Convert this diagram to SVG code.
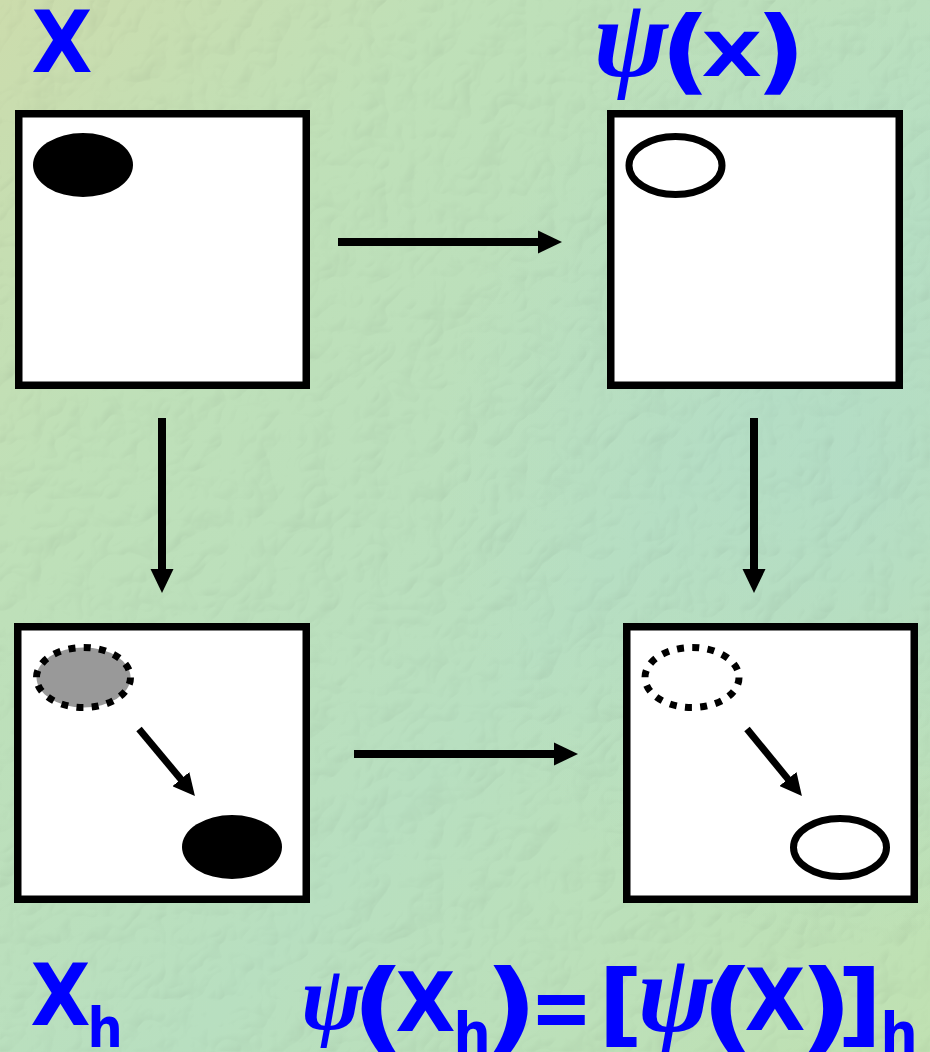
<svg xmlns="http://www.w3.org/2000/svg" width="930" height="1052" viewBox="0 0 930 1052">
  <defs>
    <linearGradient id="paper" x1="0" y1="0" x2="1" y2="1">
      <stop offset="0" stop-color="#c4d4a4"/>
      <stop offset="0.25" stop-color="#b7d8b0"/>
      <stop offset="0.6" stop-color="#b0d7b8"/>
      <stop offset="1" stop-color="#b8d9aa"/>
    </linearGradient>
    <radialGradient id="tealPatch" cx="0.92" cy="0.45" r="0.45">
      <stop offset="0" stop-color="#a6d2c4" stop-opacity="0.5"/>
      <stop offset="1" stop-color="#a6d2c4" stop-opacity="0"/>
    </radialGradient>
    <filter id="grain" x="0" y="0" width="100%" height="100%" color-interpolation-filters="sRGB">
      <feTurbulence type="turbulence" baseFrequency="0.018" numOctaves="3" seed="11" result="noise"/>
      <feDiffuseLighting in="noise" surfaceScale="1.6" lighting-color="#ffffff" diffuseConstant="1.15" result="lit">
        <feDistantLight azimuth="225" elevation="60"/>
      </feDiffuseLighting>
      <feComposite in="SourceGraphic" in2="lit" operator="arithmetic" k1="0.35" k2="0.65" k3="0" k4="0.03"/>
    </filter>
    <marker id="head" viewBox="0 0 24 24" markerUnits="userSpaceOnUse" markerWidth="24" markerHeight="24" refX="4" refY="12" orient="auto">
      <path d="M0,0.5 L24,12 L0,23.5 Z" fill="#000"/>
    </marker>
    <marker id="headSmall" viewBox="0 0 22 22" markerUnits="userSpaceOnUse" markerWidth="22" markerHeight="22" refX="4" refY="11" orient="auto">
      <path d="M0,0 L22,11 L0,22 Z" fill="#000"/>
    </marker>
  </defs>
  <style>
    .frame { fill: #ffffff; stroke: #000000; stroke-width: 7.5; }
    .solid { fill: #000000; }
    .ring { fill: #ffffff; stroke: #000000; stroke-width: 7; }
    .dotted { stroke: #000000; stroke-width: 7; stroke-dasharray: 7 8.3; }
    .link { stroke: #000000; stroke-width: 8; fill: none; }
    .move { stroke: #000000; stroke-width: 7; fill: none; }
    .lbl { fill: #0000ff; font-family: "DejaVu Sans", Verdana, sans-serif; font-weight: bold; }
    .psi { fill: #0000ff; font-family: "Liberation Serif", "DejaVu Serif", serif; font-style: italic; font-weight: bold; }
  </style>

  <!-- textured paper background -->
  <g filter="url(#grain)">
    <rect width="930" height="1052" fill="url(#paper)"/>
    <rect width="930" height="1052" fill="url(#tealPatch)"/>
  </g>

  <!-- top-left: set X -->
  <g id="node-x">
    <rect class="frame" x="18.75" y="113.75" width="287.5" height="271.5"/>
    <ellipse class="solid" cx="83" cy="165" rx="50" ry="32"/>
  </g>

  <!-- top-right: image psi(X) -->
  <g id="node-psi-x">
    <rect class="frame" x="610.75" y="113.75" width="288.5" height="271.5"/>
    <ellipse class="ring" cx="675.5" cy="165.5" rx="46.5" ry="29"/>
  </g>

  <!-- bottom-left: translated set X_h -->
  <g id="node-xh">
    <rect class="frame" x="17.75" y="626.75" width="288.5" height="272.5"/>
    <ellipse class="dotted" fill="#999999" cx="83.5" cy="677.5" rx="47" ry="30"/>
    <line class="move" x1="139" y1="729" x2="183.4" y2="782.2" marker-end="url(#headSmall)"/>
    <ellipse class="solid" cx="232" cy="847" rx="50" ry="32"/>
  </g>

  <!-- bottom-right: translated image -->
  <g id="node-psi-xh">
    <rect class="frame" x="626.75" y="626.75" width="287.5" height="272.5"/>
    <ellipse class="dotted" fill="none" cx="692" cy="677.5" rx="47" ry="30"/>
    <line class="move" x1="747" y1="729" x2="790.5" y2="782.1" marker-end="url(#headSmall)"/>
    <ellipse class="ring" cx="840" cy="847.5" rx="46.5" ry="29"/>
  </g>

  <!-- mapping arrows -->
  <g id="connectors">
    <line class="link" x1="338" y1="242" x2="542" y2="242" marker-end="url(#head)"/>
    <line class="link" x1="162" y1="418" x2="162" y2="573" marker-end="url(#head)"/>
    <line class="link" x1="754" y1="418" x2="754" y2="573" marker-end="url(#head)"/>
    <line class="link" x1="354" y1="754" x2="558" y2="754" marker-end="url(#head)"/>
  </g>

  <!-- labels -->
  <g id="label-x">
    <text class="lbl" font-size="86" transform="translate(31.4,72) scale(0.92,1)">X</text>
  </g>
  <g id="label-psi-x">
    <text class="psi" font-size="112" x="593.5" y="76.3">ψ</text>
    <text class="lbl" font-size="93" transform="translate(660,83) scale(1.2,1)">(</text>
    <text class="lbl" font-size="60" transform="translate(701.4,76) scale(1.31,1)">X</text>
    <text class="lbl" font-size="93" transform="translate(755,83) scale(1.2,1)">)</text>
  </g>
  <g id="label-xh">
    <text class="lbl" font-size="85" transform="translate(30.4,1025) scale(0.916,1)">X</text>
    <text class="lbl" font-size="55" transform="translate(87.6,1047) scale(0.9,1)">h</text>
  </g>
  <g id="label-equation">
    <text class="psi" font-size="92" x="301" y="1029">ψ</text>
    <text class="lbl" font-size="98" transform="translate(351.4,1039.5) scale(1.2,1)">(</text>
    <text class="lbl" font-size="81" transform="translate(395.4,1031) scale(0.96,1)">X</text>
    <text class="lbl" font-size="55" transform="translate(453.4,1052) scale(0.95,1)">h</text>
    <text class="lbl" font-size="98" transform="translate(484,1039.5) scale(1.2,1)">)</text>
    <text class="lbl" font-size="88" transform="translate(530,1038) scale(0.85,1)">=</text>
    <text class="lbl" font-size="90" transform="translate(598,1035.4) scale(1.1,1)">[</text>
    <text class="psi" font-size="112" x="637.5" y="1030.5">ψ</text>
    <text class="lbl" font-size="98" transform="translate(701,1039.5) scale(1.2,1)">(</text>
    <text class="lbl" font-size="85" transform="translate(744.4,1030) scale(0.93,1)">X</text>
    <text class="lbl" font-size="98" transform="translate(799,1039.5) scale(1.2,1)">)</text>
    <text class="lbl" font-size="90" transform="translate(837,1035.4) scale(1.1,1)">]</text>
    <text class="lbl" font-size="55" transform="translate(880.4,1052) scale(0.95,1)">h</text>
  </g>
</svg>
